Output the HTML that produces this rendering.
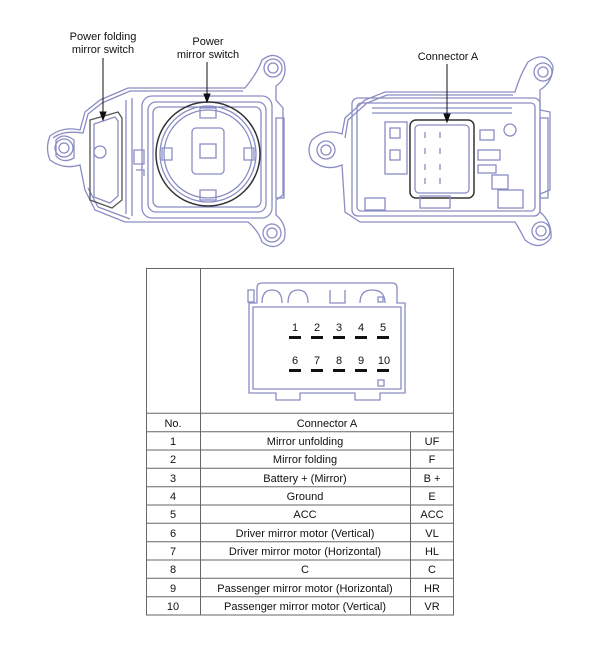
<!DOCTYPE html>
<html><head><meta charset="utf-8"><style>
html,body{margin:0;padding:0;background:#fff;width:600px;height:645px;overflow:hidden}
svg{display:block}
text{font-family:"Liberation Sans",Arial,sans-serif;fill:#111}
</style></head><body>
<svg width="600" height="645" viewBox="0 0 600 645" xmlns="http://www.w3.org/2000/svg">
<g fill="none" stroke="#8a8dc4" stroke-width="1.3">
 <!-- LEFT UNIT -->
 <path d="M50,136 Q63,126 80,130 L85,112 L100,100 L128,88 L245,88 Q258,72 262,60 Q275,50 284,62 Q288,78 276,86 L276,100 L283,108 L283,195 L276,200 L276,215 Q288,225 284,240 Q275,252 262,242 Q258,230 248,222 L125,222 L95,210 L85,190 L80,165 Q63,170 50,160 Q45,148 50,136 Z"/>
 <path d="M53,138 Q63,130 83,133 L88,114 L102,103 L130,91 L243,91 M130,219 L98,207 L88,188"/>
 <path d="M56,140 Q63,132 74,140 L74,158 Q63,164 56,156 Z"/>
 <circle cx="64" cy="148" r="9"/><circle cx="64" cy="148" r="5"/>
 <circle cx="273" cy="68" r="9"/><circle cx="273" cy="68" r="5"/>
 <circle cx="272" cy="233" r="9"/><circle cx="272" cy="233" r="5"/>
 <path d="M90,120 L118,112 L122,118 L122,200 L112,208 L90,200 Z" stroke="#555"/>
 <path d="M94,124 L115,117 L118,121 L118,196 L110,203 L94,197 Z"/>
 <circle cx="100" cy="152" r="6"/>
 <path d="M126,100 L126,214 M132,98 L132,216"/>
 <rect x="142" y="96" width="130" height="122" rx="10"/>
 <rect x="148" y="102" width="118" height="110" rx="8"/>
 <rect x="153" y="107" width="108" height="100" rx="6"/>
 <circle cx="208" cy="154" r="52" stroke="#333" stroke-width="1.5"/>
 <circle cx="208" cy="154" r="48"/>
 <circle cx="208" cy="154" r="44"/>
 <rect x="192" y="128" width="32" height="46" rx="4"/>
 <rect x="200" y="144" width="16" height="14"/>
 <path d="M200,108 h16 v10 h-16 z M200,190 h16 v10 h-16 z M162,148 h10 v12 h-10z M244,148 h10 v12 h-10z"/>
 <rect x="276" y="118" width="8" height="80"/>
 <path d="M134,150 h10 v14 h-10z M136,170 h8 v6"/>
 <!-- RIGHT UNIT -->
 <path d="M312,140 Q325,128 342,134 L345,118 L365,100 L385,92 L515,92 Q520,75 528,62 Q545,50 553,66 Q553,82 540,90 L540,110 L550,112 L550,190 L540,194 L540,212 Q552,222 551,238 Q540,252 525,240 Q520,230 515,222 L360,222 L345,212 L342,165 Q325,172 312,160 Q306,150 312,140 Z"/>
 <path d="M345,138 L348,120 L367,103 L387,95 L513,95"/>
 <circle cx="326" cy="150" r="9"/><circle cx="326" cy="150" r="5"/>
 <circle cx="543" cy="72" r="9"/><circle cx="543" cy="72" r="5"/>
 <circle cx="541" cy="231" r="9"/><circle cx="541" cy="231" r="5"/>
 <rect x="352" y="98" width="188" height="118" rx="6"/>
 <rect x="357" y="103" width="178" height="108" rx="4"/>
 <path d="M372,108 H512 M372,113 H512"/>
 <rect x="410" y="120" width="64" height="78" rx="6" stroke="#333" stroke-width="1.5"/>
 <rect x="415" y="125" width="54" height="68" rx="4"/>
 <path d="M425,132 v6 M440,132 v6 M425,148 v6 M440,148 v6 M425,164 v6 M440,164 v6 M425,178 v6 M440,178 v6"/>
 <rect x="385" y="122" width="22" height="52"/>
 <rect x="390" y="128" width="10" height="10"/><rect x="390" y="150" width="10" height="10"/>
 <rect x="480" y="130" width="14" height="10"/><rect x="492" y="175" width="16" height="14"/>
 <rect x="498" y="190" width="25" height="18"/><circle cx="510" cy="130" r="6"/>
 <rect x="478" y="150" width="22" height="10"/><rect x="478" y="165" width="18" height="8"/>
 <rect x="540" y="118" width="8" height="80"/>
 <rect x="420" y="196" width="30" height="12"/>
 <rect x="365" y="198" width="20" height="12"/>
</g>
<g stroke="#111" stroke-width="1" fill="#111">
 <line x1="103" y1="58" x2="103" y2="114"/><path d="M100,112 L103,120 L106,112 Z"/>
 <line x1="207" y1="62" x2="207" y2="96"/><path d="M204,94 L207,102 L210,94 Z"/>
 <line x1="447" y1="64" x2="447" y2="116"/><path d="M444,114 L447,122 L450,114 Z"/>
</g>
<g font-size="11" text-anchor="middle">
 <text x="103" y="40">Power folding</text><text x="103" y="53">mirror switch</text>
 <text x="208" y="45">Power</text><text x="208" y="58">mirror switch</text>
 <text x="448" y="60">Connector A</text>
</g>
<!-- TABLE -->
<g fill="none" stroke="#666" stroke-width="1">
 <rect x="146.5" y="268.5" width="307" height="346.5"/>
 <line x1="200.5" y1="268" x2="200.5" y2="615"/>
 <line x1="410.5" y1="431.7" x2="410.5" y2="615"/>
 <line x1="146" y1="413.3" x2="454" y2="413.3"/>
 <line x1="146" y1="431.7" x2="454" y2="431.7"/>
 <line x1="146" y1="450" x2="454" y2="450"/>
 <line x1="146" y1="468.3" x2="454" y2="468.3"/>
 <line x1="146" y1="486.7" x2="454" y2="486.7"/>
 <line x1="146" y1="505" x2="454" y2="505"/>
 <line x1="146" y1="523.3" x2="454" y2="523.3"/>
 <line x1="146" y1="541.7" x2="454" y2="541.7"/>
 <line x1="146" y1="560" x2="454" y2="560"/>
 <line x1="146" y1="578.3" x2="454" y2="578.3"/>
 <line x1="146" y1="596.7" x2="454" y2="596.7"/>
</g>
<!-- connector drawing -->
<g fill="none" stroke="#8a8dc4" stroke-width="1.3">
 <path d="M257,303 L257,288 Q257,283 262,283 L392,283 Q397,283 397,288 L397,303 L405,303 L405,393 L380,393 L380,400 L355,400 L355,393 L300,393 L300,400 L276,400 L276,393 L249,393 L249,303 Z"/>
 <path d="M253,307 L401,307 L401,389 L253,389 Z"/>
 <path d="M262,303 Q262,290 272,290 Q282,290 282,303 M288,303 Q288,290 298,290 Q308,290 308,303 M330,290 L330,303 L345,303 L345,290 M360,303 Q360,290 372,290 Q385,290 385,303"/>
 <rect x="248" y="290" width="6" height="12"/>
 <rect x="378" y="297" width="5" height="5"/><rect x="378" y="380" width="6" height="6"/>
</g>
<g font-size="11" text-anchor="middle">
 <text x="295" y="331">1</text><text x="317" y="331">2</text><text x="339" y="331">3</text><text x="361" y="331">4</text><text x="383" y="331">5</text>
 <text x="295" y="364">6</text><text x="317" y="364">7</text><text x="339" y="364">8</text><text x="361" y="364">9</text><text x="384" y="364">10</text>
</g>
<g fill="#111">
 <rect x="289" y="336" width="12" height="3"/><rect x="311" y="336" width="12" height="3"/><rect x="333" y="336" width="12" height="3"/><rect x="355" y="336" width="12" height="3"/><rect x="377" y="336" width="12" height="3"/>
 <rect x="289" y="369" width="12" height="3"/><rect x="311" y="369" width="12" height="3"/><rect x="333" y="369" width="12" height="3"/><rect x="355" y="369" width="12" height="3"/><rect x="377" y="369" width="12" height="3"/>
</g>
<g font-size="11" text-anchor="middle">
 <text x="173" y="427">No.</text><text x="327" y="427">Connector A</text>
 <text x="173" y="445">1</text><text x="305" y="445">Mirror unfolding</text><text x="432" y="445">UF</text>
 <text x="173" y="463">2</text><text x="305" y="463">Mirror folding</text><text x="432" y="463">F</text>
 <text x="173" y="482">3</text><text x="305" y="482">Battery + (Mirror)</text><text x="432" y="482">B +</text>
 <text x="173" y="500">4</text><text x="305" y="500">Ground</text><text x="432" y="500">E</text>
 <text x="173" y="518">5</text><text x="305" y="518">ACC</text><text x="432" y="518">ACC</text>
 <text x="173" y="537">6</text><text x="305" y="537">Driver mirror motor (Vertical)</text><text x="432" y="537">VL</text>
 <text x="173" y="555">7</text><text x="305" y="555">Driver mirror motor (Horizontal)</text><text x="432" y="555">HL</text>
 <text x="173" y="573">8</text><text x="305" y="573">C</text><text x="432" y="573">C</text>
 <text x="173" y="592">9</text><text x="305" y="592">Passenger mirror motor (Horizontal)</text><text x="432" y="592">HR</text>
 <text x="173" y="610">10</text><text x="305" y="610">Passenger mirror motor (Vertical)</text><text x="432" y="610">VR</text>
</g>
</svg>
</body></html>
